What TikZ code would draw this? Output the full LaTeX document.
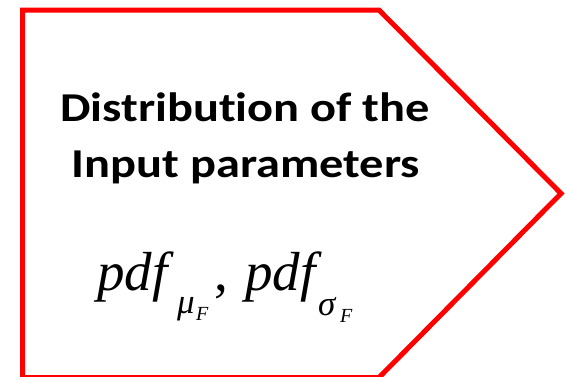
\documentclass[tikz,border=0pt]{standalone}
\usepackage{fontspec}
\setmainfont{Liberation Serif}
\newfontfamily\carlito[Ligatures=NoCommon]{Carlito}
\tikzset{
  frame/.style={draw=red, line width=5pt, line join=miter},
  titletext/.style={font=\carlito\bfseries\fontsize{41}{48}\selectfont, anchor=base, inner sep=0pt, xscale=1.18},
  mathbig/.style={font=\fontsize{55}{55}\selectfont\itshape, anchor=base west, inner sep=0pt},
  mathsub/.style={font=\fontsize{35}{35}\selectfont\itshape, anchor=base west, inner sep=0pt},
  mathsubsub/.style={font=\fontsize{20}{20}\selectfont\itshape, anchor=base west, inner sep=0pt},
  mathcomma/.style={font=\fontsize{55}{55}\selectfont, anchor=base west, inner sep=0pt}
}
\begin{document}
\begin{tikzpicture}[x=1pt,y=-1pt]
\useasboundingbox (0,0) rectangle (569,376);
\draw[frame] (22.5,10) -- (379,10) -- (561,193.5) -- (379,377.5) -- (22.5,377.5) -- cycle;
\node[titletext] (t1) at (245,121) {Distribution of the};
\node[titletext] (t2) at (246,177) {Input parameters};
\node[mathbig] (p1) at (97,290) {pdf};
\node[mathsub] (mu) at (177,313) {μ};
\node[mathsubsub] (f1) at (196,320) {F};
\node[mathcomma] (c) at (214,290) {,};
\node[mathbig] (p2) at (245,290) {pdf};
\node[mathsub] (sg) at (318,315) {σ};
\node[mathsubsub] (f2) at (340,322) {F};
\end{tikzpicture}
\end{document}
